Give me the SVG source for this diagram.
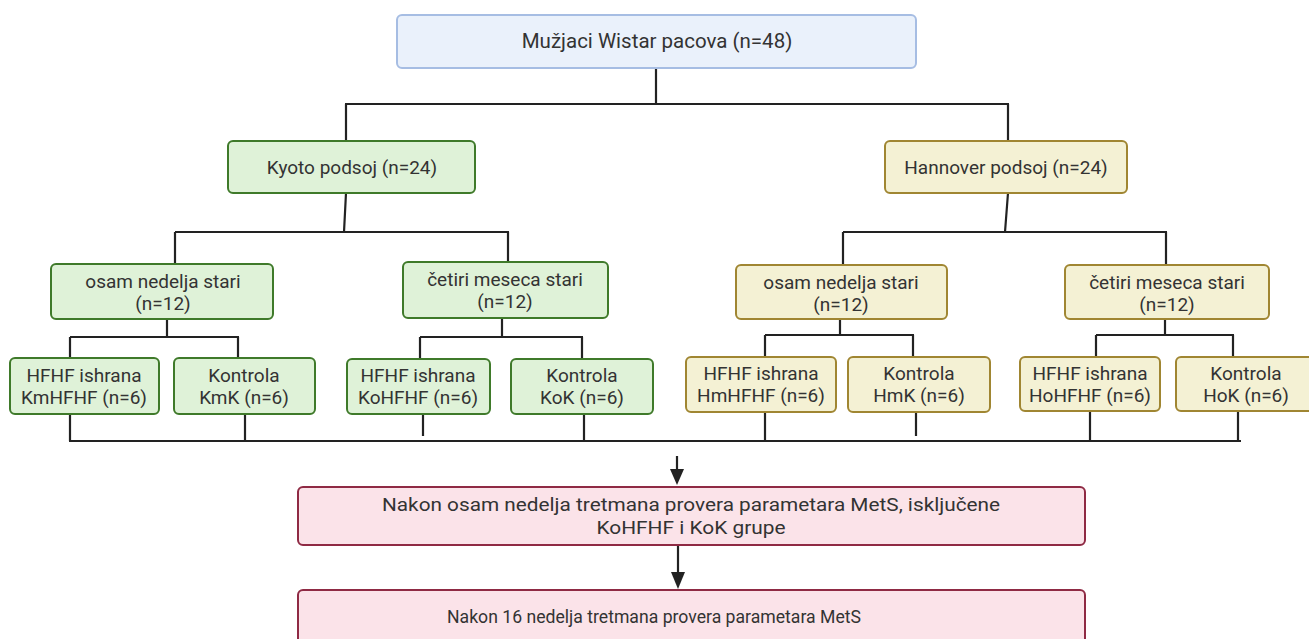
<svg xmlns="http://www.w3.org/2000/svg" width="1309" height="639" viewBox="0 0 1309 639">
<defs>
<style>
text{font-family:Roboto,"Liberation Sans",sans-serif;font-size:19px;fill:#333;text-anchor:middle}
.blue{fill:#eaf1fb;stroke:#a6bde3;stroke-width:2}
.green{fill:#dff2d8;stroke:#3f7a2a;stroke-width:2}
.yellow{fill:#f4f1d4;stroke:#a08632;stroke-width:2}
.pink{fill:#fbe3e9;stroke:#8f2a44;stroke-width:2}
.c{stroke:#222;stroke-width:2.2;fill:none}
.pt{font-size:18px}
.top{font-size:20.5px}
</style>
</defs>
<g id="connectors">
<path class="c" d="M656,68 V104 M345,104 H1009 M346,104 V141 M1008,104 V141"/>
<path class="c" d="M346,193 L344,232 M175,232 H509 M175,232 V264 M508,232 V262"/>
<path class="c" d="M1008,193 L1005,232 M843,232 H1167 M843,232 V265 M1166,232 V265"/>
<path class="c" d="M167,319 V337 M70,337 H239 M70,337 V358 M238,337 V358"/>
<path class="c" d="M502,318 V337 M420,337 H583 M420,337 V359 M582,337 V359"/>
<path class="c" d="M840,319 V335 M765,335 H914 M765,335 V357 M913,335 V357"/>
<path class="c" d="M1165,319 V335 M1096,335 H1234 M1096,335 V357 M1233,335 V357"/>
<path class="c" d="M70,414 V441 M245,414 V441 M423,414 V436 M584,414 V441 M765,412 V441 M916,412 V436 M1090,411 V441 M1238,411 V441 M69,441 H1241"/>
<path class="c" d="M677,456 V469"/>
<path d="M670,469 L684,469 L677,485 z" fill="#222"/>
<path class="c" d="M678,545 V572"/>
<path d="M671,572 L685,572 L678,589 z" fill="#222"/>
</g>
<g id="n-top"><rect class="blue" x="397" y="15" width="519" height="53" rx="5"/><text class="top" x="657" y="48">Mužjaci Wistar pacova (n=48)</text></g>
<g id="n-kyoto"><rect class="green" x="228" y="141" width="247" height="52" rx="5"/><text x="352" y="174">Kyoto podsoj (n=24)</text></g>
<g id="n-hannover"><rect class="yellow" x="885" y="141" width="242" height="52" rx="5"/><text x="1006" y="174">Hannover podsoj (n=24)</text></g>
<g id="n-ko-osam"><rect class="green" x="51" y="264" width="222" height="55" rx="5"/><text x="163" y="288">osam nedelja stari</text><text x="163" y="310">(n=12)</text></g>
<g id="n-ko-cetiri"><rect class="green" x="403" y="262" width="205" height="56" rx="5"/><text x="505" y="286">četiri meseca stari</text><text x="505" y="308">(n=12)</text></g>
<g id="n-ha-osam"><rect class="yellow" x="736" y="265" width="211" height="54" rx="5"/><text x="841" y="289">osam nedelja stari</text><text x="841" y="311">(n=12)</text></g>
<g id="n-ha-cetiri"><rect class="yellow" x="1065" y="265" width="204" height="54" rx="5"/><text x="1167" y="289">četiri meseca stari</text><text x="1167" y="311">(n=12)</text></g>
<g id="n-kmhfhf"><rect class="green" x="10" y="358" width="149" height="56" rx="5"/><text x="84" y="382">HFHF ishrana</text><text x="84" y="404">KmHFHF (n=6)</text></g>
<g id="n-kmk"><rect class="green" x="174" y="358" width="141" height="56" rx="5"/><text x="244" y="382">Kontrola</text><text x="244" y="404">KmK (n=6)</text></g>
<g id="n-kohfhf"><rect class="green" x="347" y="359" width="143" height="55" rx="5"/><text x="418" y="382">HFHF ishrana</text><text x="418" y="404">KoHFHF (n=6)</text></g>
<g id="n-kok"><rect class="green" x="511" y="359" width="142" height="55" rx="5"/><text x="582" y="382">Kontrola</text><text x="582" y="404">KoK (n=6)</text></g>
<g id="n-hmhfhf"><rect class="yellow" x="686" y="357" width="150" height="55" rx="5"/><text x="761" y="380">HFHF ishrana</text><text x="761" y="402">HmHFHF (n=6)</text></g>
<g id="n-hmk"><rect class="yellow" x="848" y="357" width="142" height="55" rx="5"/><text x="919" y="380">Kontrola</text><text x="919" y="402">HmK (n=6)</text></g>
<g id="n-hohfhf"><rect class="yellow" x="1020" y="357" width="140" height="54" rx="5"/><text x="1090" y="380">HFHF ishrana</text><text x="1090" y="402">HoHFHF (n=6)</text></g>
<g id="n-hok"><rect class="yellow" x="1176" y="357" width="140" height="54" rx="5"/><text x="1246" y="380">Kontrola</text><text x="1246" y="402">HoK (n=6)</text></g>
<g id="n-osam-tret"><rect class="pink" x="298" y="487" width="787" height="58" rx="5"/><text class="pt" x="691" y="511" textLength="618" lengthAdjust="spacingAndGlyphs">Nakon osam nedelja tretmana provera parametara MetS, isključene</text><text class="pt" x="691" y="534" textLength="189" lengthAdjust="spacingAndGlyphs">KoHFHF i KoK grupe</text></g>
<g id="n-16-tret"><rect class="pink" x="298" y="590" width="787" height="60" rx="5"/><text class="pt" x="654" y="623" textLength="414" lengthAdjust="spacingAndGlyphs">Nakon 16 nedelja tretmana provera parametara MetS</text></g>
</svg>
